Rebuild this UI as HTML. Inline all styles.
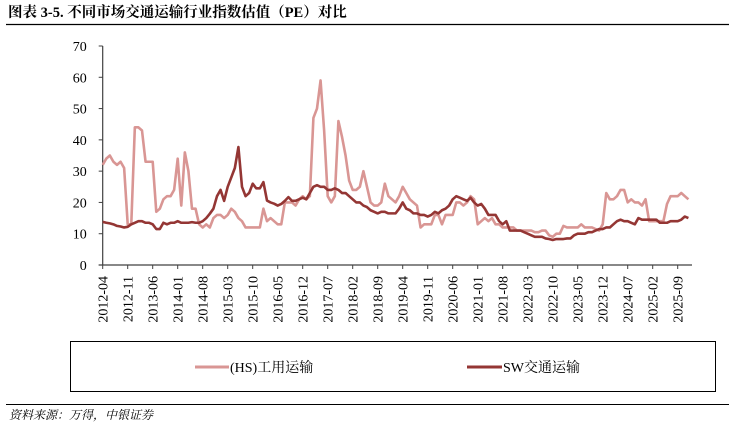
<!DOCTYPE html>
<html><head><meta charset="utf-8">
<style>
body{margin:0;background:#fff;width:735px;height:426px;overflow:hidden;}
svg{display:block}
svg text{font-family:"Liberation Serif","Noto Serif CJK SC",serif;}
</style></head>
<body>
<svg id="chart" width="735" height="426" xmlns="http://www.w3.org/2000/svg" font-family="Liberation Serif, Noto Serif CJK SC, serif">
  <text x="8" y="17" font-size="14.5" font-weight="bold" fill="#000">图表 3-5. 不同市场交通运输行业指数估值（PE）对比</text>
  <line x1="6" y1="24.5" x2="729" y2="24.5" stroke="#000" stroke-width="1.2"/>
  <g id="axes"></g>
  <g id="series"></g>
  <rect x="70.5" y="341.5" width="645" height="50" fill="none" stroke="#000" stroke-width="1"/>
  <g>
    <line x1="195" y1="367" x2="229" y2="367" stroke="#d99694" stroke-width="3"/>
    <text x="230" y="372" font-size="14" fill="#000">(HS)工用运输</text>
  </g>
  <g>
    <line x1="467" y1="367" x2="502" y2="367" stroke="#943634" stroke-width="3"/>
    <text x="503" y="372" font-size="14" fill="#000">SW交通运输</text>
  </g>
  <line x1="6" y1="404.5" x2="729" y2="404.5" stroke="#000" stroke-width="1"/>
  <text x="9" y="419" font-size="12" font-style="italic" fill="#000">资料来源：万得，中银证券</text>
</svg>
<script>
const yTicks=[0,10,20,30,40,50,60,70];
const xTickLabels=["2012-04","2012-11","2013-06","2014-01","2014-08","2015-03","2015-10","2016-05","2016-12","2017-07","2018-02","2018-09","2019-04","2019-11","2020-06","2021-01","2021-08","2022-03","2022-10","2023-05","2023-12","2024-07","2025-02","2025-09"];
const hsValues=[32,34,35,33,32,33,31,13,13,44,44,43,33,33,33,17,18,21,22,22,24,34,19,36,30,18,18,13,12,13,12,15,16,16,15,16,18,17,15,14,12,12,12,12,12,18,14,15,14,13,13,20,20,20,19,21,22,21,22,47,50,59,43,22,20,22,46,41,35,27,24,24,25,30,25,20,19,19,20,26,22,21,20,22,25,23,21,20,19,12,13,13,13,16,16,13,16,16,16,20,20,19,20,22,21,13,14,15,14,15,13,13,12,12,12,12,11,11,11,11,11,10.5,10.5,11,11,9.5,9,10,10,12.5,12,12,12,12,13,12,12,12,11.5,11,13,23,21,21,22,24,24,20,21,20,20,19,21,14,14,14,14,14,19.5,22,22,22,23,22,21];
const swValues=[13.8,13.5,13.3,13,12.5,12.3,12,12.2,13,13.5,14,14,13.5,13.5,13,11.5,11.5,13.5,13,13.5,13.5,14,13.5,13.5,13.5,13.7,13.5,13.5,14,15,16.4,18,22,24,20.5,25,28,31,37.7,25,22,23,26,24.5,24.5,26.5,20.6,20,19.6,19,19.5,20.5,21.7,20.5,20.5,21,21.5,21,23,25,25.5,25,25,24,24,24.5,24,23,23,22,21,20,20,19,18.5,17.5,17,16.5,17,17,16.5,16.5,16.5,18,20,18,17.5,16.5,16.5,16,16,15.5,16,17,16.5,17.5,18,19,21,22,21.5,21,20.5,21.5,20,19,19.5,18,16,16,16,14,13,14,11,11,11,11,10.5,10,9.5,9,9,9,8.5,8.3,8,8.3,8.3,8.3,8.5,8.5,9.5,10,10,10,10.5,10.5,11,11.5,11.5,12,12,13,14,14.5,14,14,13.5,13,15,14.5,14.5,14.5,14.5,14.5,13.5,13.5,13.5,14,14,14,14.5,15.5,15];

const NS="http://www.w3.org/2000/svg";
const X0=102.7, MONTH_PX=25/7, Y0=265, YPX=219/70;
function xs(m){return X0+m*MONTH_PX;}
function ys(v){return Y0-v*YPX;}
function mk(tag,attrs,parent){const e=document.createElementNS(NS,tag);for(const k in attrs)e.setAttribute(k,attrs[k]);parent.appendChild(e);return e;}
const axes=document.getElementById('axes');
const series=document.getElementById('series');

const yAxis=mk('line',{x1:X0,y1:ys(70),x2:X0,y2:Y0,stroke:'#404040','stroke-width':1.2},axes);


const plotRight=xs(165);
const xAxis=mk('line',{x1:X0-4,y1:Y0,x2:plotRight,y2:Y0,stroke:'#404040','stroke-width':1.2},axes);



yTicks.forEach(v=>{
  const t=mk('line',{x1:X0-4,y1:ys(v),x2:X0,y2:ys(v),stroke:'#404040','stroke-width':1},axes);
  
  
  const l=mk('text',{x:X0-16,y:ys(v)+5,'font-size':14,'text-anchor':'end',fill:'#000'},axes);
  l.textContent=v;
  
  
});
xTickLabels.forEach((lab,i)=>{
  const x=xs(i*7);
  const t=mk('line',{x1:x,y1:Y0,x2:x,y2:Y0+4,stroke:'#404040','stroke-width':1},axes);
  
  
  const l=mk('text',{x:0,y:0,'font-size':14,'text-anchor':'end',fill:'#000',transform:`translate(${x+5},${Y0+11}) rotate(-90)`},axes);
  l.textContent=lab;
  
  
});
function line(vals,color,w,name){
  const d=vals.map((v,i)=>(i?'L':'M')+xs(i).toFixed(2)+' '+ys(v).toFixed(2)).join(' ');
  const p=mk('path',{d:d,fill:'none',stroke:color,'stroke-width':w,'stroke-linejoin':'round'},series);
  
  
}
line(hsValues,'#d99694',2.6,'hs-transport-line');
line(swValues,'#943634',2.6,'sw-transport-line');
</script>
</body></html>
